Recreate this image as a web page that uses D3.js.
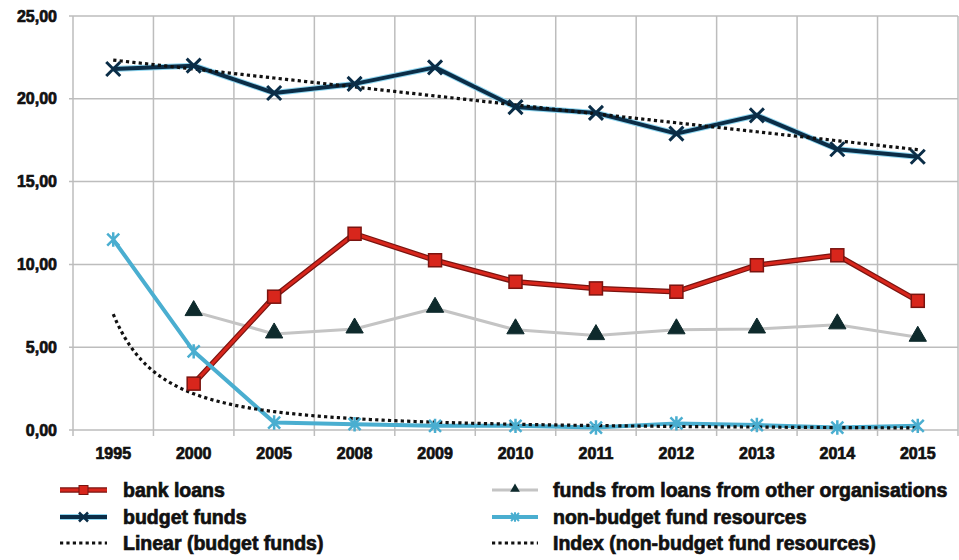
<!DOCTYPE html>
<html>
<head>
<meta charset="utf-8">
<script src="https://cdn.jsdelivr.net/npm/d3@7"></script>
<style>
  html, body { margin: 0; padding: 0; background: #ffffff; }
  svg { display: block; }
  text { font-family: "Liberation Sans Narrow", "Arial Narrow", "Liberation Sans", Arial, sans-serif; font-weight: bold; fill: #111; stroke: #111; stroke-width: 0.7px; }
</style>
</head>
<body>
<svg id="chart" width="959" height="560"></svg>
<script>
// Categories (years) and series values
const years = ["1995", "2000", "2005", "2008", "2009", "2010", "2011", "2012", "2013", "2014", "2015"];
const bankLoans      = [null, 2.8, 8.05, 11.85, 10.25, 8.95, 8.55, 8.35, 9.95, 10.55, 7.8];
const budgetFunds    = [21.8, 22.0, 20.35, 20.9, 21.9, 19.5, 19.15, 17.9, 19.0, 16.95, 16.5];
const otherLoans     = [null, 7.15, 5.8, 6.1, 7.35, 6.05, 5.7, 6.05, 6.1, 6.35, 5.6];
const nonBudgetFunds = [11.5, 4.75, 0.45, 0.35, 0.25, 0.25, 0.15, 0.4, 0.3, 0.15, 0.25];
const yTicks = [0, 5, 10, 15, 20, 25];

const legendLeft  = ["bank loans", "budget funds", "Linear (budget funds)"];
const legendRight = ["funds from loans from other organisations", "non-budget fund resources", "Index (non-budget fund resources)"];

const svg = d3.select("#chart");
const margin = { left: 73, right: 1, top: 16, bottom: 130 };
const W = 959, H = 560;

const x = d3.scaleBand().domain(years).range([margin.left, W - margin.right]).paddingInner(0).paddingOuter(0);
const y = d3.scaleLinear().domain([0, 25]).range([H - margin.bottom, margin.top]);
const cx = i => x(years[i]) + x.bandwidth() / 2;

// Grid: horizontal lines at each tick, vertical lines between categories
const grid = svg.append("g");
grid.selectAll("line.h").data(yTicks).join("line")
  .attr("x1", margin.left - 4).attr("x2", W - margin.right)
  .attr("y1", d => y(d)).attr("y2", d => y(d))
  .attr("stroke", "#bdbdbd").attr("stroke-width", 1.5);
const bounds = years.map(d => x(d)).concat([x(years[years.length - 1]) + x.bandwidth()]);
grid.selectAll("line.v").data(bounds).join("line")
  .attr("x1", d => d).attr("x2", d => d)
  .attr("y1", y(25)).attr("y2", y(0) + 6)
  .attr("stroke", "#bdbdbd").attr("stroke-width", 1.5);

// Y axis labels
const yAxis = d3.axisLeft(y).tickValues(yTicks).tickSize(0).tickPadding(16)
  .tickFormat(d => d3.format(".2f")(d).replace(".", ","));
svg.append("g").attr("transform", `translate(${margin.left},0)`).call(yAxis)
  .call(g => g.select(".domain").remove())
  .call(g => g.selectAll("text").attr("font-size", 16).attr("fill", "#111").attr("font-family", null));

// X axis labels
const xAxis = d3.axisBottom(x).tickSize(0).tickPadding(18);
svg.append("g").attr("transform", `translate(0,${y(0)})`).call(xAxis)
  .call(g => g.select(".domain").remove())
  .call(g => g.selectAll("text").attr("font-size", 16).attr("fill", "#111").attr("font-family", null));

// Trend fits: least-squares linear fit and power fit (y = a * t^b) over category index t = 1..n
function linearFit(vals) {
  const pts = vals.map((v, i) => [i + 1, v]).filter(p => p[1] != null);
  const mx = d3.mean(pts, p => p[0]), my = d3.mean(pts, p => p[1]);
  const b = d3.sum(pts, p => (p[0] - mx) * (p[1] - my)) / d3.sum(pts, p => (p[0] - mx) ** 2);
  return t => my + b * (t - mx);
}
function powerFit(vals) {
  const pts = vals.map((v, i) => [Math.log(i + 1), Math.log(v)]);
  const mx = d3.mean(pts, p => p[0]), my = d3.mean(pts, p => p[1]);
  const b = d3.sum(pts, p => (p[0] - mx) * (p[1] - my)) / d3.sum(pts, p => (p[0] - mx) ** 2);
  const a = Math.exp(my - b * mx);
  return t => a * Math.pow(t, b);
}
const tx = t => cx(0) + (t - 1) * x.bandwidth();

const linF = linearFit(budgetFunds);
const powF = powerFit(nonBudgetFunds);
const tSteps = d3.range(1, 11.0001, 0.05);

const lineGen = (vals) => d3.line().defined(d => d != null).x((d, i) => cx(i)).y(d => y(d))(vals);

// Series lines
const series = svg.append("g");

// other organisations (grey line)
series.append("path").attr("d", lineGen(otherLoans))
  .attr("fill", "none").attr("stroke", "#c4c4c4").attr("stroke-width", 3).attr("stroke-linejoin", "round");

// bank loans
series.append("path").attr("d", lineGen(bankLoans))
  .attr("fill", "none").attr("stroke", "#7a1410").attr("stroke-width", 5.5).attr("stroke-linejoin", "round");
series.append("path").attr("d", lineGen(bankLoans))
  .attr("fill", "none").attr("stroke", "#d8261c").attr("stroke-width", 3).attr("stroke-linejoin", "round");

// non-budget fund resources
series.append("path").attr("d", lineGen(nonBudgetFunds))
  .attr("fill", "none").attr("stroke", "#4aaed0").attr("stroke-width", 4).attr("stroke-linejoin", "round");

// budget funds
series.append("path").attr("d", lineGen(budgetFunds))
  .attr("fill", "none").attr("stroke", "#8fd6f0").attr("stroke-width", 6).attr("stroke-linejoin", "round");
series.append("path").attr("d", lineGen(budgetFunds))
  .attr("fill", "none").attr("stroke", "#0b2d47").attr("stroke-width", 4).attr("stroke-linejoin", "round");

// Trend lines (dotted)
const trend = svg.append("g");
trend.append("path")
  .attr("d", d3.line().x(t => tx(t)).y(t => y(linF(t)))(tSteps))
  .attr("fill", "none").attr("stroke", "#111").attr("stroke-width", 3.2).attr("stroke-dasharray", "3.2 3.2");
trend.append("path")
  .attr("d", d3.line().x(t => tx(t)).y(t => y(powF(t)))(tSteps))
  .attr("fill", "none").attr("stroke", "#111").attr("stroke-width", 3.2).attr("stroke-dasharray", "3.2 3.2");

// Markers
const markers = svg.append("g");
const xMark = (g, px, py, r, color, w) => {
  g.append("path").attr("d", `M${px - r},${py - r}L${px + r},${py + r}M${px - r},${py + r}L${px + r},${py - r}`)
    .attr("stroke", color).attr("stroke-width", w).attr("fill", "none");
};
const starMark = (g, px, py, r, color, w) => {
  g.append("path").attr("d", `M${px - r},${py - r}L${px + r},${py + r}M${px - r},${py + r}L${px + r},${py - r}M${px},${py - r * 1.2}L${px},${py + r * 1.2}`)
    .attr("stroke", color).attr("stroke-width", w).attr("fill", "none");
};

otherLoans.forEach((v, i) => {
  if (v == null) return;
  markers.append("path").attr("d", d3.symbol(d3.symbolTriangle, 130)())
    .attr("transform", `translate(${cx(i)},${y(v) - 1})`)
    .attr("fill", "#0e2a2c").attr("stroke", "#0e2a2c").attr("stroke-width", 1);
});
bankLoans.forEach((v, i) => {
  if (v == null) return;
  markers.append("rect").attr("x", cx(i) - 6.5).attr("y", y(v) - 6.5).attr("width", 13).attr("height", 13)
    .attr("fill", "#d8261c").attr("stroke", "#7a1410").attr("stroke-width", 1.5);
});
nonBudgetFunds.forEach((v, i) => starMark(markers, cx(i), y(v), 6, "#4aaed0", 2.5));
budgetFunds.forEach((v, i) => xMark(markers, cx(i), y(v), 7, "#0b2d47", 3));

// Legend
const legend = svg.append("g");
const rowY = [490, 517, 543];
const leftSym = [60, 107], rightSym = [492, 538];

function legendSym(kind, x0, x1, yy) {
  const mid = (x0 + x1) / 2;
  if (kind === "bank") {
    legend.append("line").attr("x1", x0).attr("x2", x1).attr("y1", yy).attr("y2", yy).attr("stroke", "#7a1410").attr("stroke-width", 5.5);
    legend.append("line").attr("x1", x0).attr("x2", x1).attr("y1", yy).attr("y2", yy).attr("stroke", "#d8261c").attr("stroke-width", 3);
    legend.append("rect").attr("x", mid - 4.5).attr("y", yy - 4.5).attr("width", 9).attr("height", 9).attr("fill", "#d8261c").attr("stroke", "#7a1410").attr("stroke-width", 1);
  } else if (kind === "budget") {
    legend.append("line").attr("x1", x0).attr("x2", x1).attr("y1", yy).attr("y2", yy).attr("stroke", "#8fd6f0").attr("stroke-width", 6);
    legend.append("line").attr("x1", x0).attr("x2", x1).attr("y1", yy).attr("y2", yy).attr("stroke", "#0b2d47").attr("stroke-width", 4);
    xMark(legend, mid, yy, 4.5, "#0b2d47", 2.5);
  } else if (kind === "other") {
    legend.append("line").attr("x1", x0).attr("x2", x1).attr("y1", yy).attr("y2", yy).attr("stroke", "#c4c4c4").attr("stroke-width", 3);
    legend.append("path").attr("d", d3.symbol(d3.symbolTriangle, 40)()).attr("transform", `translate(${mid},${yy - 1})`).attr("fill", "#0e2a2c");
  } else if (kind === "nonbudget") {
    legend.append("line").attr("x1", x0).attr("x2", x1).attr("y1", yy).attr("y2", yy).attr("stroke", "#4aaed0").attr("stroke-width", 4);
    starMark(legend, mid, yy, 4, "#4aaed0", 2);
  } else {
    legend.append("line").attr("x1", x0).attr("x2", x1).attr("y1", yy).attr("y2", yy).attr("stroke", "#111").attr("stroke-width", 3.2).attr("stroke-dasharray", "3.2 3.2");
  }
}

["bank", "budget", "trend"].forEach((k, i) => legendSym(k, leftSym[0], leftSym[1], rowY[i]));
["other", "nonbudget", "trend"].forEach((k, i) => legendSym(k, rightSym[0], rightSym[1], rowY[i]));

legend.selectAll("text.l").data(legendLeft).join("text")
  .attr("x", 123).attr("y", (d, i) => rowY[i]).attr("dy", "0.35em")
  .attr("font-size", 19.5).text(d => d);
legend.selectAll("text.r").data(legendRight).join("text")
  .attr("x", 553).attr("y", (d, i) => rowY[i]).attr("dy", "0.35em")
  .attr("font-size", 19.5).text(d => d);
</script>
</body>
</html>
